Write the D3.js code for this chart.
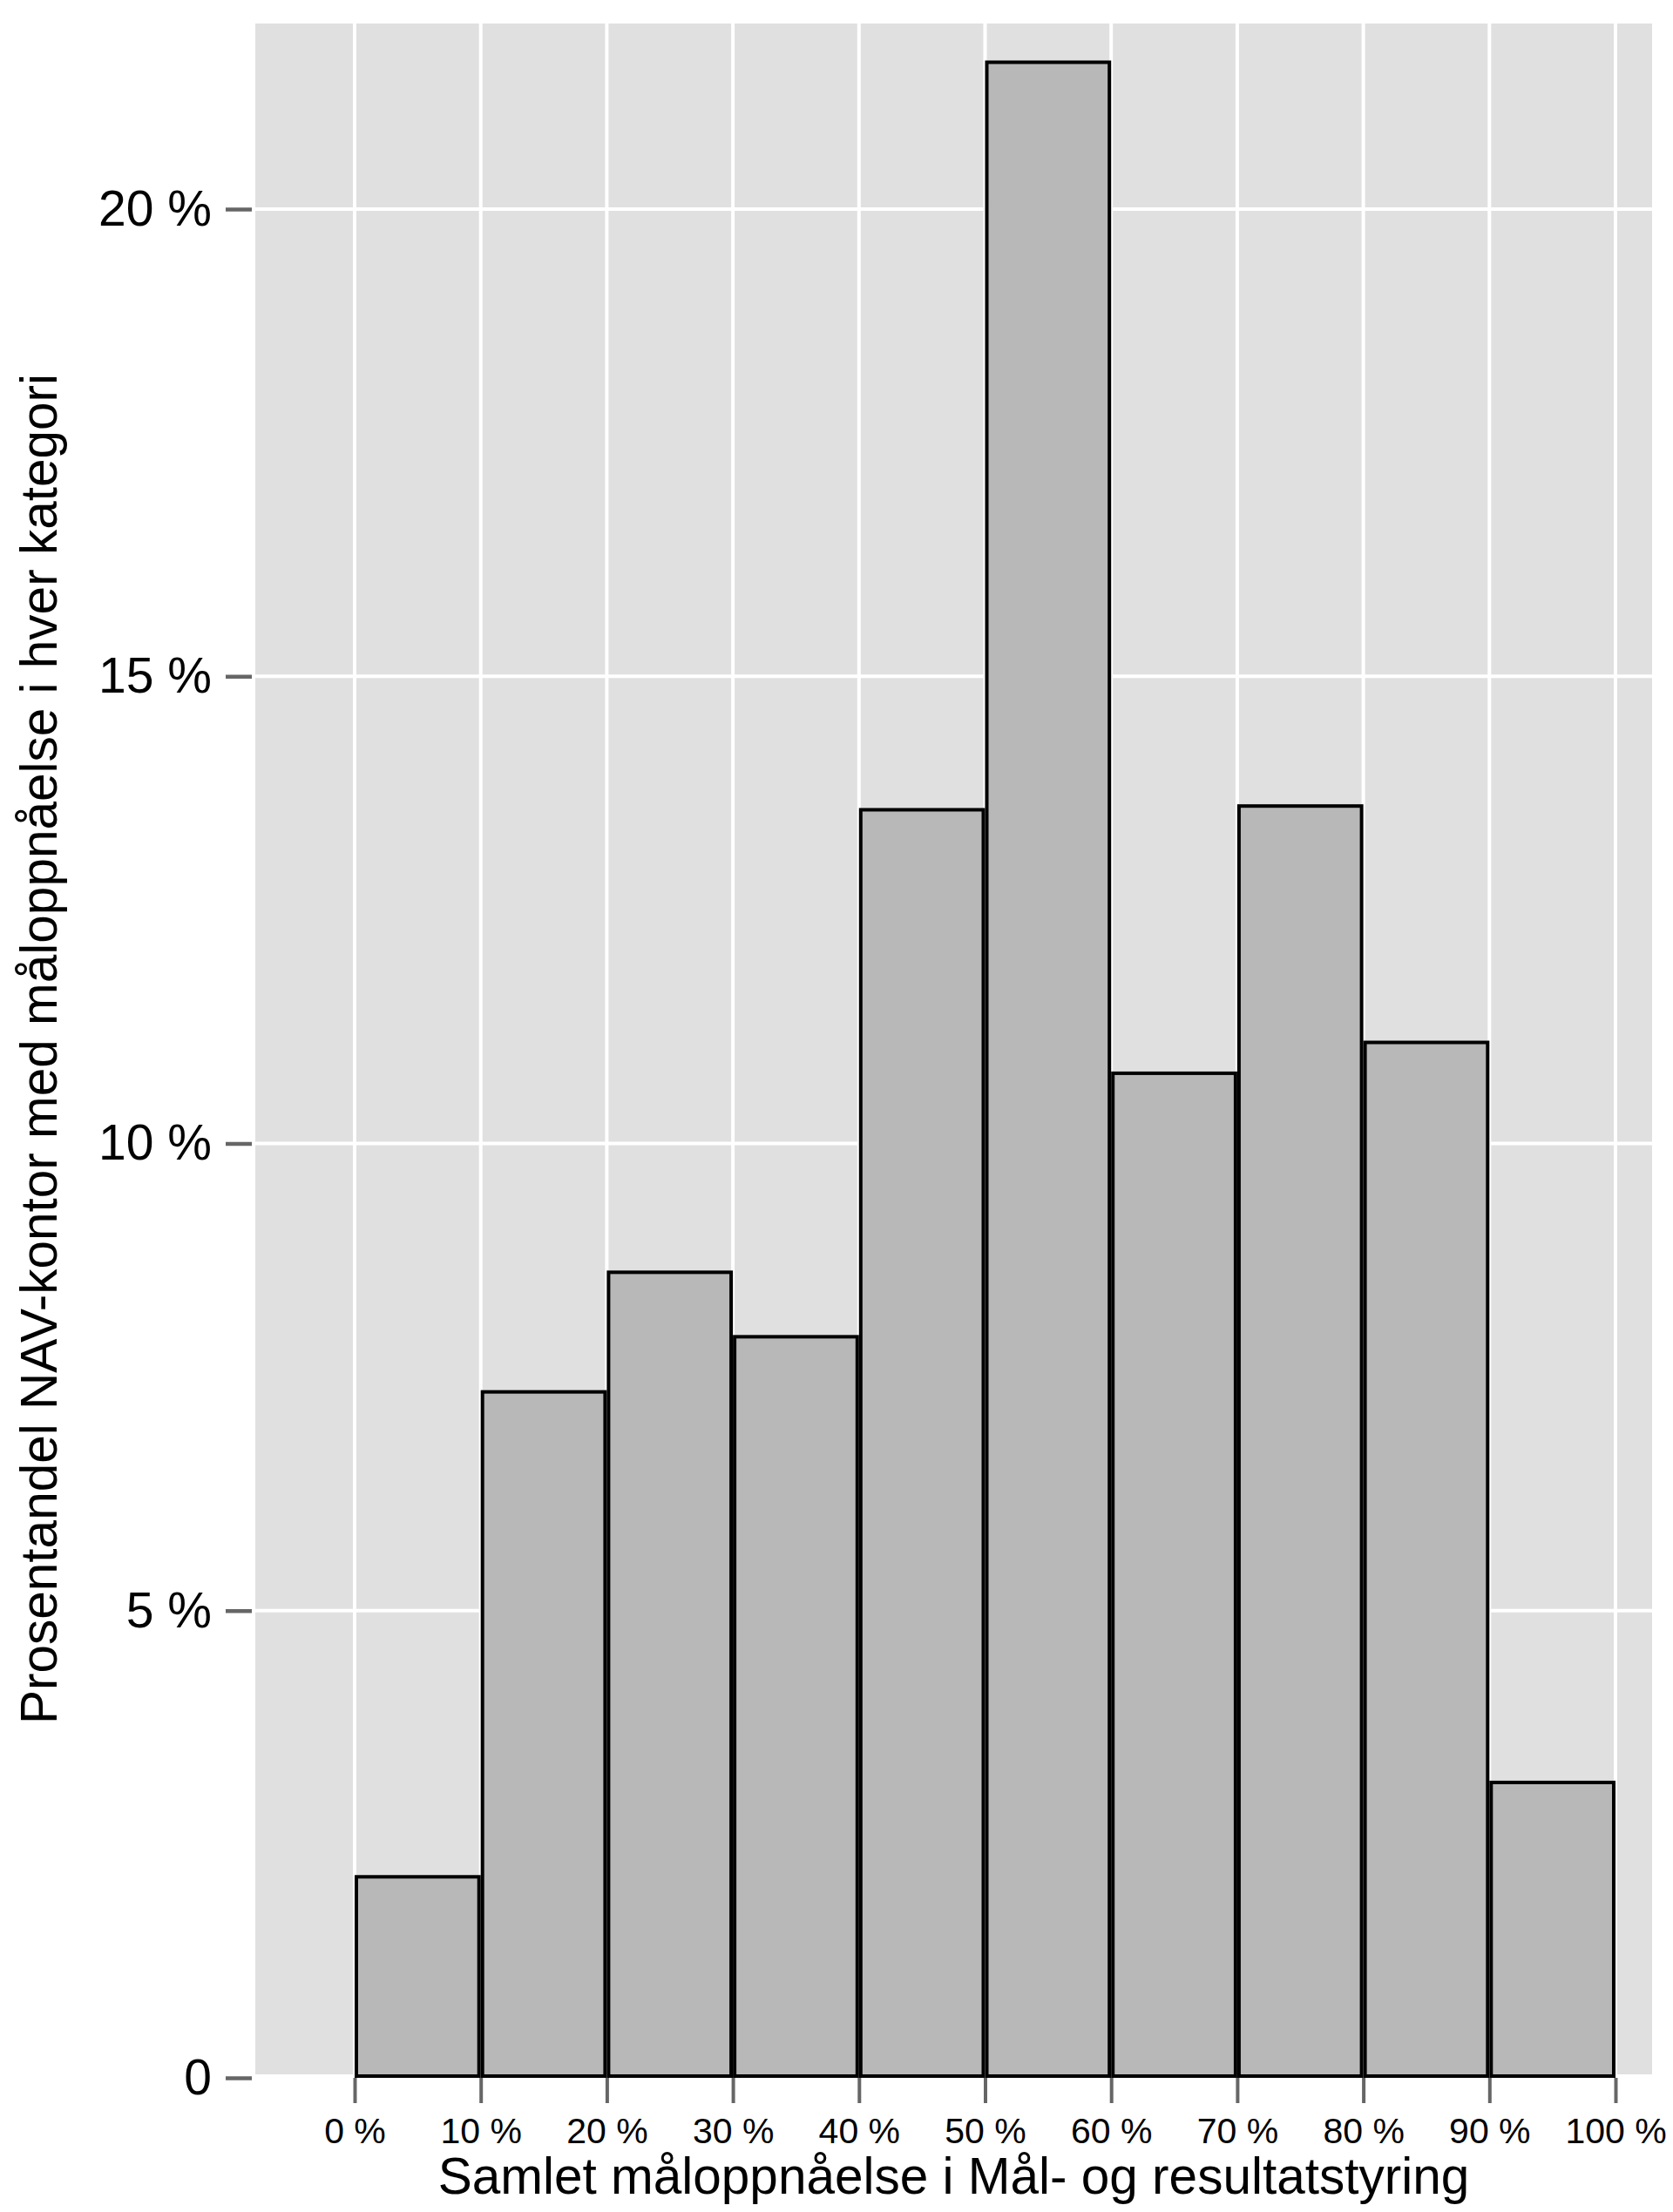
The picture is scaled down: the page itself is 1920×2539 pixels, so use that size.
<!DOCTYPE html>
<html lang="no">
  <head>
    <meta charset="UTF-8" />
    <title>Måloppnåelse NAV-kontor</title>
    <style>
      body { margin: 0; background: #fff; }
      svg { display: block; font-family: "Liberation Sans", Arial, sans-serif; }
    </style>
  </head>
  <body>
    <svg width="1920" height="2539"></svg>

    <script src="https://d3js.org/d3.v7.min.js"></script>
    <script>
      // bins (prosent måloppnåelse) og andel kontor i hver kategori
      const binStart = [0, 10, 20, 30, 40, 50, 60, 70, 80, 90];
      const binEnd = [10, 20, 30, 40, 50, 60, 70, 80, 90, 100];
      const shares = [2.17, 7.36, 8.64, 7.95, 13.59, 21.59, 10.77, 13.63, 11.1, 3.18];

      const xTicks = [0, 10, 20, 30, 40, 50, 60, 70, 80, 90, 100];
      const xTickLabels = ["0 %", "10 %", "20 %", "30 %", "40 %", "50 %", "60 %", "70 %", "80 %", "90 %", "100 %"];
      const yTicks = [0, 5, 10, 15, 20];
      const yTickLabels = ["0", "5 %", "10 %", "15 %", "20 %"];

      const xTitle = "Samlet måloppnåelse i Mål- og resultatstyring";
      const yTitle = "Prosentandel NAV-kontor med måloppnåelse i hver kategori";

      (function () {
        "use strict";

        var svg = d3.select("svg");

        var x = d3.scaleLinear().domain([0, 100]).range([407, 1854]);
        var y = d3.scaleLinear().domain([0, 20]).range([2385, 240]);

        // panelet (grå bakgrunn)
        var panelLeft = 293, panelRight = 1896, panelTop = 27, panelBottom = 2381;
        svg.append("rect")
          .attr("x", panelLeft)
          .attr("y", panelTop)
          .attr("width", panelRight - panelLeft)
          .attr("height", panelBottom - panelTop)
          .attr("fill", "#e0e0e0");

        // rutenett
        svg.append("g")
          .selectAll("line")
          .data(xTicks)
          .join("line")
          .attr("x1", function (d) { return x(d); })
          .attr("x2", function (d) { return x(d); })
          .attr("y1", panelTop)
          .attr("y2", panelBottom)
          .attr("stroke", "#fff")
          .attr("stroke-width", 4);

        svg.append("g")
          .selectAll("line")
          .data(yTicks.filter(function (d) { return d > 0; }))
          .join("line")
          .attr("x1", panelLeft)
          .attr("x2", panelRight)
          .attr("y1", function (d) { return y(d); })
          .attr("y2", function (d) { return y(d); })
          .attr("stroke", "#fff")
          .attr("stroke-width", 4);

        // søyler (strek innenfor hver bin)
        svg.append("g")
          .selectAll("rect")
          .data(shares)
          .join("rect")
          .attr("x", function (d, i) { return x(binStart[i]) + 2; })
          .attr("width", function (d, i) { return x(binEnd[i]) - x(binStart[i]) - 4; })
          .attr("y", function (d) { return y(d) + 2; })
          .attr("height", function (d) { return y(0) - y(d) - 4; })
          .attr("fill", "#b8b8b8")
          .attr("stroke", "#000")
          .attr("stroke-width", 4);

        // y-akse
        var yAxis = svg.append("g")
          .attr("transform", "translate(289,0)")
          .call(d3.axisLeft(y)
            .tickValues(yTicks)
            .tickSize(30)
            .tickPadding(16)
            .tickFormat(function (d, i) { return yTickLabels[i]; }));
        yAxis.select(".domain").remove();
        yAxis.selectAll(".tick line").attr("stroke", "#666").attr("stroke-width", 4.5);
        yAxis.selectAll(".tick text")
          .attr("fill", "#000")
          .attr("font-size", 57)
          .attr("font-family", "Liberation Sans, Arial, sans-serif");

        // x-akse
        var xAxis = svg.append("g")
          .attr("transform", "translate(0,2385)")
          .call(d3.axisBottom(x)
            .tickValues(xTicks)
            .tickSize(29)
            .tickFormat(function (d, i) { return xTickLabels[i]; }));
        xAxis.select(".domain").remove();
        xAxis.selectAll(".tick line").attr("stroke", "#666").attr("stroke-width", 4);
        xAxis.selectAll(".tick text")
          .attr("y", 75)
          .attr("dy", null)
          .attr("fill", "#000")
          .attr("font-size", 41)
          .attr("font-family", "Liberation Sans, Arial, sans-serif");

        // aksetitler
        svg.append("text")
          .attr("x", (panelLeft + panelRight) / 2)
          .attr("y", 2518)
          .attr("text-anchor", "middle")
          .attr("font-size", 58.5)
          .text(xTitle);

        svg.append("text")
          .attr("transform", "translate(65," + (panelTop + panelBottom) / 2 + ") rotate(-90)")
          .attr("text-anchor", "middle")
          .attr("font-size", 58.5)
          .text(yTitle);
      })();
    </script>
  </body>
</html>
